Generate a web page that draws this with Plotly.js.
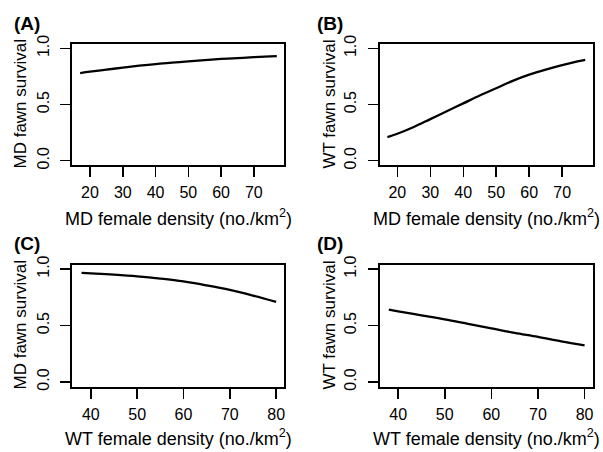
<!DOCTYPE html>
<html>
<head>
<meta charset="utf-8">
<script src="https://cdn.plot.ly/plotly-3.0.1.min.js"></script>
<style>html,body{margin:0;padding:0;background:#fff;}#chart{width:603px;height:452px;}</style>
</head>
<body>
<div id="chart"></div>
<script>
// Data
const xMD = [17, 20, 25, 30, 35, 40, 45, 50, 55, 60, 65, 70, 75, 77];
const mdSurvByMD = [0.78, 0.792, 0.81, 0.828, 0.845, 0.86, 0.872, 0.884, 0.895, 0.905, 0.913, 0.921, 0.928, 0.931];
const wtSurvByMD = [0.21, 0.24, 0.30, 0.37, 0.44, 0.51, 0.58, 0.645, 0.71, 0.765, 0.81, 0.85, 0.885, 0.897];
const xWT = [38, 40, 45, 50, 55, 60, 65, 70, 75, 80];
const mdSurvByWT = [0.965, 0.962, 0.95, 0.935, 0.915, 0.89, 0.855, 0.815, 0.765, 0.71];
const wtSurvByWT = [0.64, 0.625, 0.59, 0.555, 0.515, 0.475, 0.435, 0.40, 0.36, 0.325];
const panelLabels = ["(A)", "(B)", "(C)", "(D)"];
const yTitles = ["MD fawn survival", "WT fawn survival", "MD fawn survival", "WT fawn survival"];
const xTitles = ["MD female density (no./km<sup>2</sup>)", "MD female density (no./km<sup>2</sup>)",
                 "WT female density (no./km<sup>2</sup>)", "WT female density (no./km<sup>2</sup>)"];
const yTicks = [0, 0.5, 1.0];
const xTicksMD = [20, 30, 40, 50, 60, 70];
const xTicksWT = [40, 50, 60, 70, 80];

const font = "Liberation Sans, Arial, Helvetica, sans-serif";
const line = {color: "#000", width: 2.3, shape: "spline"};
const traces = [
  {x: xMD, y: mdSurvByMD, xaxis: "x", yaxis: "y", mode: "lines", line: line},
  {x: xMD, y: wtSurvByMD, xaxis: "x2", yaxis: "y2", mode: "lines", line: line},
  {x: xWT, y: mdSurvByWT, xaxis: "x3", yaxis: "y3", mode: "lines", line: line},
  {x: xWT, y: wtSurvByWT, xaxis: "x4", yaxis: "y4", mode: "lines", line: line}
];

const W = 603, H = 452;
const colDom = [[72.3 / W, 284 / W], [379.5 / W, 592.5 / W]];
const rowDom = [[1 - 165.2 / H, 1 - 43.8 / H], [1 - 386.5 / H, 1 - 264.5 / H]];

function xax(dom, range, ticks, anchor) {
  return {domain: dom, range: range, tickmode: "array", tickvals: ticks, ticktext: ticks.map(String),
    showgrid: false, zeroline: false, showline: true, mirror: true, linecolor: "#000", linewidth: 2,
    ticks: "outside", ticklen: 10, tickwidth: 1.5, tickcolor: "#000", anchor: anchor,
    ticklabelstandoff: 2,
    tickfont: {family: font, size: 16, color: "#000"}};
}
function yax(dom, anchor) {
  return {domain: dom, range: [-0.04, 1.04], tickmode: "array", tickvals: yTicks,
    ticktext: yTicks.map(v => v.toFixed(1)), tickangle: -90,
    showgrid: false, zeroline: false, showline: true, mirror: true, linecolor: "#000", linewidth: 2,
    ticks: "outside", ticklen: 10, tickwidth: 1.5, tickcolor: "#000", anchor: anchor,
    ticklabelstandoff: 5,
    tickfont: {family: font, size: 16, color: "#000"}};
}

const annotations = [];
const cells = [[0, 0], [0, 1], [1, 0], [1, 1]];
const labelPos = [[27, 23], [330, 23], [27, 244], [330, 244]];
const yTitlePos = [20, 329, 20, 329];
const xTitleY = [217, 217, 437, 437];
cells.forEach((c, i) => {
  const [r, col] = c;
  annotations.push({xref: "paper", yref: "paper", x: labelPos[i][0] / W, y: 1 - labelPos[i][1] / H,
    text: "<b>" + panelLabels[i] + "</b>", showarrow: false, xanchor: "center", yanchor: "middle",
    font: {family: font, size: 19, color: "#000"}});
  const yMid = (rowDom[r][0] + rowDom[r][1]) / 2;
  annotations.push({xref: "paper", yref: "paper", x: yTitlePos[i] / W, y: yMid, textangle: -90,
    text: yTitles[i], showarrow: false, xanchor: "center", yanchor: "middle",
    font: {family: font, size: 17, color: "#000"}});
  const xMid = (colDom[col][0] + colDom[col][1]) / 2;
  annotations.push({xref: "paper", yref: "paper", x: xMid, y: 1 - xTitleY[i] / H,
    text: xTitles[i], showarrow: false, xanchor: "center", yanchor: "middle",
    font: {family: font, size: 18, color: "#000"}});
});

const layout = {
  width: W, height: H, margin: {l: 0, r: 0, t: 0, b: 0},
  paper_bgcolor: "#fff", plot_bgcolor: "#fff", showlegend: false,
  font: {family: font, color: "#000"},
  xaxis: xax(colDom[0], [14.6, 79.2], xTicksMD, "y"),
  yaxis: yax(rowDom[0], "x"),
  xaxis2: xax(colDom[1], [14.6, 79.2], xTicksMD, "y2"),
  yaxis2: yax(rowDom[0], "x2"),
  xaxis3: xax(colDom[0], [36.0, 81.7], xTicksWT, "y3"),
  yaxis3: yax(rowDom[1], "x3"),
  xaxis4: xax(colDom[1], [36.0, 81.7], xTicksWT, "y4"),
  yaxis4: yax(rowDom[1], "x4"),
  annotations: annotations
};
Plotly.newPlot("chart", traces, layout, {staticPlot: true, displayModeBar: false});
</script>
</body>
</html>
